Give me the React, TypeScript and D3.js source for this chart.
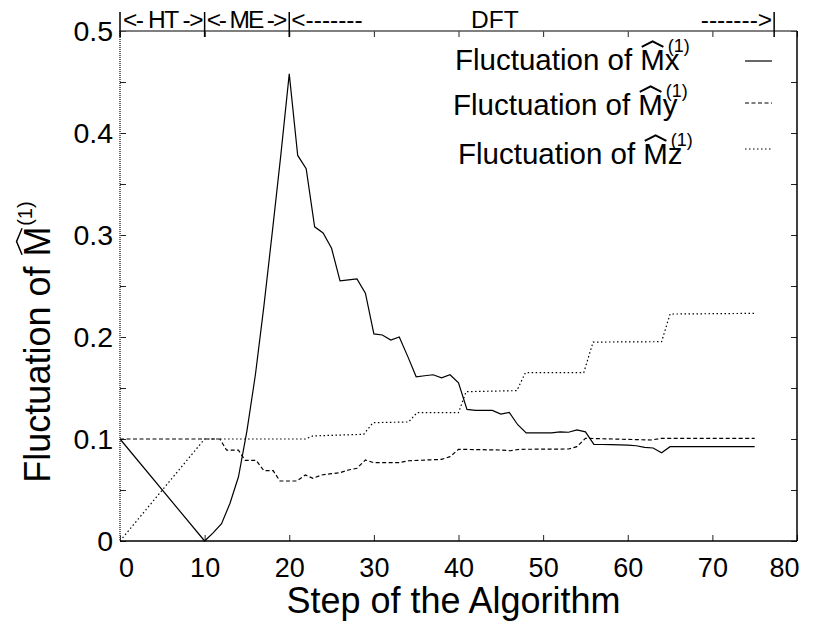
import React, { useEffect, useRef } from 'react';
import * as d3 from 'd3';

// axis ticks
const xTicks = [0, 10, 20, 30, 40, 50, 60, 70, 80];
const yTicks = [0, 0.1, 0.2, 0.3, 0.4, 0.5];
const yMinorTicks = [0, 0.05, 0.1, 0.15, 0.2, 0.25, 0.3, 0.35, 0.4, 0.45, 0.5];

// phases of the algorithm (top annotation)
const phaseMarks = [0, 10, 20, 77.3];
const phaseNames = ['HT', 'ME', 'DFT'];

// Fluctuation of Mx (solid)
const mxSteps = [0, 10, 11, 12, 13, 14, 15, 16, 17, 18, 19, 20, 21, 22, 23, 24, 25, 26, 27, 28, 29, 30,
  31, 32, 33, 34, 35, 36, 37, 38, 39, 40, 41, 42, 43, 44, 45, 46, 47, 48, 49, 50, 51, 52, 53, 54, 55,
  56, 57, 58, 59, 60, 61, 62, 63, 64, 65, 66, 67, 68, 69, 70, 71, 72, 73, 74, 75];
const mxValues = [0.1, 0, 0.008, 0.017, 0.037, 0.063, 0.108, 0.163, 0.23, 0.303, 0.378, 0.458, 0.378,
  0.365, 0.308, 0.302, 0.287, 0.255, 0.256, 0.257, 0.243, 0.203, 0.202, 0.197, 0.2, 0.181, 0.161, 0.162,
  0.163, 0.16, 0.163, 0.155, 0.129, 0.128, 0.128, 0.128, 0.1245, 0.126, 0.114, 0.106, 0.106, 0.106, 0.106,
  0.107, 0.1066, 0.109, 0.107, 0.0948, 0.0946, 0.0944, 0.0942, 0.094, 0.0934, 0.0918, 0.0912, 0.0866,
  0.0925, 0.0925, 0.0925, 0.0925, 0.0925, 0.0925, 0.0925, 0.0925, 0.0925, 0.0925, 0.0925];

// Fluctuation of My (dashed)
const mySteps = [0, 11.8, 12.6, 14, 14.8, 16.1, 17, 18.1, 18.9, 20.9, 21.9, 22.8, 23.8, 25, 26, 27, 28,
  29, 30, 33, 34.1, 38, 39, 40, 44.9, 46.1, 47.3, 53, 54, 55, 62.8, 64, 75];
const myValues = [0.1, 0.1, 0.089, 0.089, 0.079, 0.079, 0.069, 0.069, 0.0588, 0.0588, 0.0647, 0.0614,
  0.0647, 0.066, 0.067, 0.0696, 0.0713, 0.0794, 0.0768, 0.0768, 0.0787, 0.08, 0.0827, 0.0899, 0.0892,
  0.0885, 0.0899, 0.0902, 0.0925, 0.1007, 0.099, 0.1007, 0.1007];

// Fluctuation of Mz (dotted)
const mzSteps = [0, 10, 21.9, 22.8, 28.8, 29.9, 34.1, 35.1, 40, 40.9, 46.9, 47.9, 54.8, 55.9, 64, 65, 75];
const mzValues = [0, 0.1, 0.1, 0.103, 0.1046, 0.116, 0.1167, 0.1258, 0.1258, 0.1464, 0.1474, 0.165,
  0.165, 0.195, 0.1954, 0.2225, 0.2232];

const seriesSubs = ['x', 'y', 'z'];
const seriesDash = ['none', '4,2.5', '1.5,2.5'];

type Sel = d3.Selection<any, unknown, null, undefined>;

// "Fluctuation of M^(1)" with a wide hat drawn over the M
function mathLabel(parent: Sel, sub: string, size: number, supSize: number, anchor: string, hatW: number) {
  const prefix = 'Fluctuation of ';
  const t = parent.append('text').attr('font-size', size).attr('text-anchor', anchor).attr('fill', '#000');
  t.append('tspan').text(prefix + 'M' + sub);
  t.append('tspan')
    .attr('font-size', supSize)
    .attr('dx', sub ? -size * 0.4 : size * 0.02)
    .attr('dy', sub ? -size * 0.6 : -size * 0.5)
    .text('(1)');
  const node = t.node() as SVGTextElement;
  const box = node.getExtentOfChar(prefix.length);
  const capTop = box.y + box.height * 0.16;
  const cx = box.x + box.width / 2;
  const half = (box.width * 0.88) / 2;
  parent.append('path')
    .attr('d', `M${cx - half},${capTop - 1.5}L${cx},${capTop - 7}L${cx + half},${capTop - 1.5}`)
    .attr('fill', 'none')
    .attr('stroke', '#000')
    .attr('stroke-width', hatW);
}

export default function App() {
  const svgRef = useRef<SVGSVGElement | null>(null);

  useEffect(() => {
    if (!svgRef.current) return;
    const svg = d3.select(svgRef.current);
    svg.selectAll('*').remove();

    const x = d3.scaleLinear().domain([0, 80]).range([120, 797]);
    const y = d3.scaleLinear().domain([0, 0.5]).range([541, 31]);
    const [x0, x1] = x.range();
    const [y0, y1] = y.range();

    // ticks
    const tickStyle = (g: Sel) => {
      g.select('.domain').remove();
      g.selectAll('line').attr('stroke', '#222').attr('stroke-width', 1);
    };

    svg.append('g')
      .attr('transform', `translate(0,${y0})`)
      .call(d3.axisBottom(x).tickValues(xTicks).tickSize(-6).tickPadding(17).tickFormat(d3.format('d')))
      .call(tickStyle)
      .call(g => g.selectAll('text')
        .attr('font-size', 27)
        .attr('fill', '#000')
        .attr('font-family', 'inherit')
        .attr('dx', (d: any) => (d === 0 ? 6 : d === 80 ? -13 : 0)));

    svg.append('g')
      .attr('transform', `translate(0,${y1})`)
      .call(d3.axisTop(x).tickValues(xTicks).tickSize(-6).tickFormat(() => ''))
      .call(tickStyle);

    svg.append('g')
      .attr('transform', `translate(${x0},0)`)
      .call(d3.axisLeft(y).tickValues(yMinorTicks).tickSize(-6).tickFormat(() => ''))
      .call(tickStyle);

    svg.append('g')
      .attr('transform', `translate(${x0},0)`)
      .call(d3.axisLeft(y).tickValues(yTicks).tickSize(0).tickPadding(7).tickFormat(d => String(+(+d).toFixed(1))))
      .call(g => g.select('.domain').remove())
      .call(g => g.selectAll('text').attr('font-size', 28.5).attr('fill', '#000').attr('font-family', 'inherit'));

    svg.append('g')
      .attr('transform', `translate(${x1},0)`)
      .call(d3.axisRight(y).tickValues(yMinorTicks).tickSize(-6).tickFormat(() => ''))
      .call(tickStyle);

    // frame
    svg.append('line').attr('x1', x0).attr('x2', x1).attr('y1', y0).attr('y2', y0)
      .attr('stroke', '#000').attr('stroke-width', 1.6);
    svg.append('line').attr('x1', x0).attr('x2', x1).attr('y1', y1).attr('y2', y1)
      .attr('stroke', '#555').attr('stroke-width', 1.3);
    svg.append('line').attr('x1', x1).attr('x2', x1).attr('y1', y1).attr('y2', y0)
      .attr('stroke', '#000').attr('stroke-width', 1.5);
    svg.append('line').attr('x1', x0).attr('x2', x0).attr('y1', y1).attr('y2', y0)
      .attr('stroke', '#555').attr('stroke-width', 1.8).attr('stroke-dasharray', '1,1');

    // series
    const line = d3.line<[number, number]>().x(d => x(d[0])).y(d => y(d[1]));
    const series: [number, number][][] = [
      d3.zip(mxSteps, mxValues) as [number, number][],
      d3.zip(mySteps, myValues) as [number, number][],
      d3.zip(mzSteps, mzValues) as [number, number][],
    ];
    series.forEach((pts, i) => {
      svg.append('path')
        .datum(pts)
        .attr('fill', 'none')
        .attr('stroke', '#000')
        .attr('stroke-width', 1.2)
        .attr('stroke-dasharray', seriesDash[i])
        .attr('d', line);
    });

    // legend
    const legendBase = [70, 115, 164];
    const legendLeft = [455, 453, 458];
    seriesSubs.forEach((s, i) => {
      const g = svg.append('g').attr('transform', `translate(${legendLeft[i]},${legendBase[i]})`);
      mathLabel(g, s, 29.5, 18, 'start', 2);
      svg.append('line')
        .attr('x1', 745).attr('x2', 772)
        .attr('y1', legendBase[i] - 9 - i * 3).attr('y2', legendBase[i] - 9 - i * 3)
        .attr('stroke', '#000').attr('stroke-width', 1.2)
        .attr('stroke-dasharray', seriesDash[i]);
    });

    // phase annotation on top
    const ann = svg.append('g').attr('font-size', 24.5).attr('fill', '#000');
    phaseMarks.forEach(m => {
      ann.append('line').attr('x1', x(m)).attr('x2', x(m)).attr('y1', 12).attr('y2', 37)
        .attr('stroke', '#000').attr('stroke-width', 1.5);
    });
    ann.append('text').attr('x', x(phaseMarks[0]) + 3).attr('y', 28)
      .attr('textLength', x(phaseMarks[1]) - x(phaseMarks[0]) - 4).attr('lengthAdjust', 'spacing')
      .text(`<- ${phaseNames[0]} ->`);
    ann.append('text').attr('x', x(phaseMarks[1]) + 2).attr('y', 28)
      .attr('textLength', x(phaseMarks[2]) - x(phaseMarks[1]) - 4).attr('lengthAdjust', 'spacing')
      .text(`<- ${phaseNames[1]} ->`);
    ann.append('text').attr('x', x(phaseMarks[2]) + 2).attr('y', 28).text('<-------');
    ann.append('text').attr('x', x(44.3)).attr('y', 28).attr('text-anchor', 'middle').text(phaseNames[2]);
    ann.append('text').attr('x', x(phaseMarks[3]) - 2).attr('y', 28).attr('text-anchor', 'end').text('------->');

    // axis titles
    svg.append('text')
      .attr('x', (x0 + x1) / 2 - 5).attr('y', 613)
      .attr('text-anchor', 'middle').attr('font-size', 36).attr('fill', '#000')
      .text('Step of the Algorithm');

    const yl = svg.append('g').attr('transform', `translate(50,${(y0 + y1) / 2 + 56}) rotate(-90)`);
    mathLabel(yl, '', 36, 20, 'middle', 1.5);
  }, []);

  return (
    <svg
      ref={svgRef}
      width={815}
      height={625}
      style={{ position: 'absolute', left: 0, top: 0, background: '#fff' }}
      fontFamily="'Liberation Sans', Arial, Helvetica, sans-serif"
    />
  );
}
